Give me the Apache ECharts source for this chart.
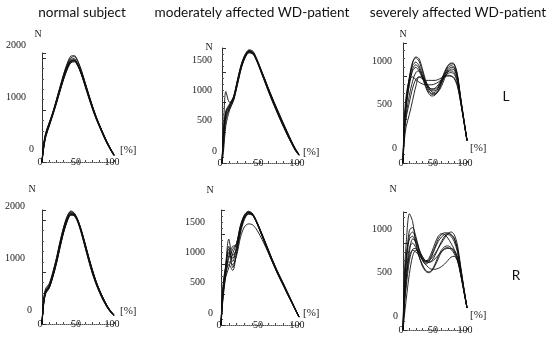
<!DOCTYPE html>
<html>
<head>
<meta charset="utf-8">
<script src="https://cdn.jsdelivr.net/npm/echarts@6/dist/echarts.min.js"></script>
<style>
  html, body { margin: 0; padding: 0; background: #fff; }
  #chart { width: 550px; height: 340px; }
</style>
</head>
<body>
<div id="chart"></div>
<script>
// Stance phase in percent, shared by every curve
const percent = [0, 2, 5, 10, 15, 20, 25, 30, 35, 40, 45, 50, 55, 60, 65, 70, 75, 80, 85, 90, 95, 100];

// Force curves in N, one row per step
const normalL = [
  [0, 260, 500, 720, 930, 1160, 1400, 1630, 1820, 1950, 1960, 1860, 1690, 1480, 1260, 1050, 860, 690, 530, 380, 250, 130],
  [0, 300, 540, 750, 960, 1200, 1450, 1680, 1880, 2010, 2030, 1930, 1750, 1530, 1300, 1080, 880, 700, 540, 390, 255, 135],
  [0, 230, 470, 690, 900, 1120, 1360, 1590, 1780, 1910, 1930, 1840, 1680, 1470, 1250, 1040, 850, 680, 520, 370, 240, 125],
  [0, 280, 520, 730, 940, 1180, 1420, 1660, 1860, 1980, 1990, 1880, 1700, 1490, 1270, 1060, 870, 700, 540, 390, 260, 140],
  [0, 250, 490, 700, 910, 1140, 1380, 1610, 1800, 1930, 1950, 1870, 1710, 1510, 1290, 1080, 880, 710, 550, 400, 265, 145],
  [0, 320, 560, 760, 950, 1170, 1410, 1640, 1840, 1960, 1970, 1860, 1670, 1450, 1230, 1020, 830, 670, 510, 360, 235, 120],
  [0, 270, 510, 710, 920, 1150, 1390, 1620, 1810, 1940, 1950, 1850, 1680, 1470, 1250, 1040, 850, 680, 520, 375, 245, 130],
  [0, 290, 530, 740, 950, 1190, 1440, 1690, 1900, 2040, 2050, 1940, 1750, 1520, 1290, 1070, 870, 700, 540, 385, 250, 130],
  [0, 240, 480, 700, 920, 1150, 1380, 1600, 1790, 1920, 1950, 1870, 1710, 1500, 1280, 1070, 880, 710, 550, 400, 260, 140]
];
const moderateL = [
  [0, 450, 820, 950, 1080, 1350, 1600, 1760, 1845, 1830, 1710, 1550, 1390, 1220, 1060, 910, 760, 620, 480, 345, 225, 130],
  [0, 600, 1180, 1000, 1060, 1330, 1590, 1760, 1840, 1820, 1700, 1540, 1380, 1210, 1050, 900, 750, 610, 470, 340, 220, 130],
  [0, 380, 760, 900, 1040, 1300, 1570, 1740, 1820, 1800, 1690, 1545, 1395, 1235, 1080, 930, 785, 640, 500, 365, 240, 140],
  [0, 500, 860, 980, 1100, 1370, 1630, 1790, 1860, 1830, 1700, 1530, 1360, 1190, 1030, 880, 730, 590, 455, 330, 210, 125],
  [0, 300, 700, 930, 1060, 1340, 1610, 1780, 1850, 1820, 1690, 1525, 1360, 1195, 1035, 885, 740, 600, 460, 335, 215, 128],
  [0, 420, 800, 940, 1070, 1320, 1580, 1750, 1830, 1815, 1710, 1560, 1405, 1245, 1090, 940, 795, 650, 510, 370, 245, 145],
  [0, 480, 840, 960, 1090, 1360, 1620, 1790, 1870, 1850, 1730, 1570, 1405, 1235, 1070, 915, 765, 625, 485, 350, 230, 135],
  [0, 200, 620, 880, 1030, 1290, 1560, 1740, 1830, 1810, 1700, 1550, 1395, 1230, 1070, 920, 775, 635, 495, 360, 235, 138]
];
const severeL = [
  [0, 420, 680, 960, 1150, 1220, 1200, 1090, 960, 870, 830, 830, 870, 950, 1040, 1110, 1140, 1130, 1010, 750, 500, 260],
  [0, 380, 640, 900, 1060, 1100, 1060, 980, 910, 870, 850, 860, 900, 960, 1020, 1050, 1060, 1040, 950, 720, 490, 265],
  [0, 500, 780, 960, 990, 960, 930, 910, 900, 900, 900, 910, 930, 960, 990, 1000, 1000, 980, 900, 700, 480, 255],
  [0, 250, 420, 560, 720, 880, 990, 990, 930, 860, 820, 800, 820, 880, 970, 1050, 1080, 1070, 970, 740, 500, 260],
  [0, 450, 700, 980, 1120, 1160, 1120, 1020, 900, 820, 790, 790, 830, 910, 1000, 1070, 1100, 1090, 990, 740, 500, 260],
  [0, 300, 520, 700, 860, 960, 990, 970, 950, 950, 950, 950, 960, 980, 1000, 1010, 1000, 970, 880, 700, 480, 255],
  [0, 400, 660, 920, 1080, 1130, 1090, 990, 880, 800, 770, 780, 830, 920, 1020, 1090, 1120, 1100, 990, 730, 490, 258],
  [0, 350, 560, 780, 940, 1040, 1060, 1010, 940, 880, 850, 850, 880, 930, 990, 1030, 1040, 1020, 930, 720, 490, 262],
  [0, 460, 720, 990, 1160, 1210, 1170, 1060, 930, 840, 800, 810, 860, 950, 1050, 1120, 1150, 1140, 1020, 760, 510, 262]
];
const normalR = [
  [0, 380, 620, 720, 940, 1200, 1520, 1800, 2010, 2130, 2110, 1980, 1760, 1500, 1240, 1000, 790, 620, 470, 340, 240, 170],
  [0, 420, 660, 760, 990, 1260, 1580, 1860, 2070, 2170, 2130, 1990, 1770, 1520, 1260, 1020, 810, 640, 490, 360, 255, 175],
  [0, 340, 580, 690, 900, 1160, 1470, 1760, 1980, 2100, 2090, 1970, 1760, 1510, 1260, 1020, 810, 640, 490, 350, 245, 165],
  [0, 400, 640, 740, 960, 1230, 1550, 1830, 2040, 2150, 2120, 1970, 1740, 1480, 1220, 980, 780, 610, 460, 335, 235, 165],
  [0, 360, 600, 700, 920, 1180, 1490, 1780, 2000, 2120, 2110, 2000, 1800, 1550, 1290, 1050, 830, 650, 500, 365, 260, 180],
  [0, 440, 680, 780, 1000, 1270, 1590, 1870, 2080, 2180, 2140, 2000, 1780, 1530, 1270, 1030, 820, 650, 495, 360, 255, 170],
  [0, 370, 610, 710, 930, 1190, 1510, 1790, 2000, 2110, 2080, 1950, 1730, 1470, 1210, 970, 770, 600, 455, 330, 230, 160],
  [0, 390, 630, 730, 950, 1210, 1530, 1810, 2020, 2140, 2120, 1990, 1780, 1530, 1270, 1030, 820, 640, 485, 350, 245, 170],
  [0, 350, 590, 700, 910, 1170, 1480, 1770, 1990, 2110, 2100, 1990, 1790, 1540, 1280, 1040, 820, 645, 495, 360, 250, 175]
];
const moderateR = [
  [0, 500, 850, 1200, 1050, 1300, 1620, 1790, 1850, 1830, 1720, 1570, 1410, 1250, 1090, 940, 800, 670, 530, 400, 265, 135],
  [0, 450, 800, 1420, 1150, 1250, 1580, 1780, 1860, 1840, 1725, 1570, 1405, 1240, 1080, 930, 790, 660, 520, 390, 258, 130],
  [0, 400, 760, 1000, 900, 1200, 1560, 1760, 1840, 1830, 1730, 1585, 1430, 1270, 1110, 960, 820, 690, 550, 415, 275, 140],
  [0, 550, 900, 1100, 1250, 1350, 1640, 1810, 1870, 1840, 1715, 1555, 1390, 1225, 1065, 915, 775, 645, 510, 385, 255, 128],
  [0, 350, 700, 1050, 1000, 1150, 1450, 1620, 1670, 1660, 1590, 1480, 1350, 1210, 1065, 925, 790, 665, 530, 400, 268, 135],
  [0, 480, 820, 1150, 1300, 1320, 1600, 1780, 1840, 1825, 1720, 1575, 1420, 1260, 1100, 950, 810, 680, 540, 405, 270, 140],
  [0, 420, 780, 1250, 1100, 1280, 1590, 1790, 1860, 1830, 1710, 1555, 1395, 1235, 1075, 925, 785, 655, 520, 390, 260, 132],
  [0, 380, 740, 950, 1180, 1350, 1650, 1820, 1880, 1850, 1735, 1580, 1420, 1255, 1095, 945, 805, 675, 535, 402, 268, 136],
  [0, 520, 880, 1300, 950, 1180, 1520, 1740, 1830, 1815, 1710, 1565, 1410, 1250, 1090, 940, 800, 670, 530, 398, 264, 138]
];
const severeR = [
  [0, 600, 1000, 1340, 1250, 1000, 850, 760, 690, 670, 690, 760, 850, 920, 960, 970, 950, 900, 820, 650, 450, 255],
  [0, 450, 800, 1150, 1180, 1080, 940, 830, 790, 820, 900, 1000, 1080, 1110, 1100, 1060, 1000, 930, 830, 650, 450, 255],
  [0, 400, 750, 1080, 1130, 1050, 920, 810, 760, 780, 850, 940, 1020, 1070, 1100, 1110, 1100, 1060, 940, 720, 480, 258],
  [0, 300, 580, 900, 1050, 1020, 930, 850, 800, 800, 830, 880, 940, 1000, 1060, 1110, 1130, 1100, 980, 740, 490, 258],
  [0, 150, 350, 650, 850, 920, 900, 850, 800, 780, 800, 860, 940, 1020, 1080, 1100, 1080, 1020, 900, 700, 470, 255],
  [0, 250, 500, 800, 930, 940, 880, 810, 760, 720, 700, 700, 710, 730, 760, 800, 840, 850, 800, 660, 460, 255],
  [0, 350, 650, 950, 1000, 950, 850, 740, 680, 660, 680, 740, 820, 900, 940, 950, 930, 880, 800, 640, 450, 252],
  [0, 500, 850, 1050, 1080, 1000, 900, 820, 780, 800, 870, 960, 1050, 1100, 1120, 1120, 1100, 1050, 930, 710, 480, 257],
  [0, 300, 600, 850, 920, 900, 860, 820, 790, 780, 790, 820, 860, 900, 930, 940, 940, 920, 850, 680, 465, 255]
];

// Column headings and side labels
const columnTitles = ['normal subject', 'moderately affected WD-patient', 'severely affected WD-patient'];
const sideLabels = ['L', 'R'];

// Panel layout: plot box, axis ranges and label placement
const panels = [
  { curves: normalL,   box: { left: 42,  top: 53,  width: 72, height: 109 }, yMax: 2100, yStep: 1000,
    zeroMargin: 8, extra: 8, lift: 7, nGap: 0,  nShift: 8,  pGap: 6, pLift: 6 },
  { curves: moderateL, box: { left: 222, top: 48,  width: 77, height: 115 }, yMax: 1900, yStep: 500,
    zeroMargin: 5, extra: 5, lift: 6, nGap: -4, nShift: 26, pGap: 4, pLift: 5 },
  { curves: severeL,   box: { left: 403, top: 43,  width: 64, height: 120 }, yMax: 1380, yStep: 500,
    zeroMargin: 6, extra: 5, lift: 9, nGap: 4,  nShift: 0,  pGap: 3, pLift: 9 },
  { curves: normalR,   box: { left: 42,  top: 210, width: 72, height: 114 }, yMax: 2200, yStep: 1000,
    zeroMargin: 10, extra: 7, lift: 8, nGap: 16, nShift: 20, pGap: 6, pLift: 7 },
  { curves: moderateR, box: { left: 221, top: 210, width: 78, height: 115 }, yMax: 1900, yStep: 500,
    zeroMargin: 8, extra: 8, lift: 6, nGap: 15, nShift: 22, pGap: 4, pLift: 6 },
  { curves: severeR,   box: { left: 403, top: 212, width: 64, height: 118 }, yMax: 1360, yStep: 500,
    zeroMargin: 5, extra: 6, lift: 8, nGap: 18, nShift: 20, pGap: 3, pLift: 9 }
];

const serif = 'Liberation Serif';
const ink = '#222';

const grid = [], xAxis = [], yAxis = [], series = [];
panels.forEach((p, i) => {
  grid.push(Object.assign({ containLabel: false }, p.box));
  xAxis.push({
    gridIndex: i, type: 'value', min: 0, max: 100, interval: 50,
    axisLine: { show: true, lineStyle: { color: '#555', width: 1, type: 'dotted' } },
    axisTick: { show: true, inside: true, length: 2, lineStyle: { color: '#444' } },
    minorTick: { show: true, splitNumber: 5, length: 2, lineStyle: { color: '#444' } },
    splitLine: { show: false },
    axisLabel: { margin: 0, verticalAlign: 'middle', fontFamily: serif, fontSize: 10, color: ink, padding: [0, 4, 0, 0] },
    name: '[%]', nameLocation: 'end', nameGap: p.pGap,
    nameTextStyle: { fontFamily: serif, fontSize: 11, color: ink, align: 'left', verticalAlign: 'bottom', padding: [0, 0, p.pLift, 0] }
  });
  yAxis.push({
    gridIndex: i, type: 'value', min: 0, max: p.yMax, interval: p.yStep,
    axisLine: { show: true, lineStyle: { color: '#333', width: 1 } },
    axisTick: { show: true, inside: true, length: 4, lineStyle: { color: '#333' } },
    minorTick: { show: true, splitNumber: 5, length: 2, lineStyle: { color: '#555' } },
    splitLine: { show: false },
    axisLabel: {
      margin: p.zeroMargin, fontFamily: serif, fontSize: 10, color: ink,
      verticalAlign: 'bottom', lineHeight: 12, padding: [0, 0, p.lift, 0],
      formatter: v => (v % p.yStep !== 0 ? '' : (v === 0 ? '0' : '{w|' + v + '}')),
      rich: { w: { fontFamily: serif, fontSize: 10, color: ink, lineHeight: 12, padding: [0, p.extra, 0, 0] } }
    },
    name: 'N', nameLocation: 'end', nameGap: p.nGap,
    nameTextStyle: { fontFamily: serif, fontSize: 10, color: ink, padding: [0, p.nShift, 0, 0] }
  });
  p.curves.forEach(c => {
    series.push({
      type: 'line', xAxisIndex: i, yAxisIndex: i,
      data: percent.map((x, k) => [x, c[k]]),
      showSymbol: false, smooth: 0.3, silent: true,
      lineStyle: { color: '#111', width: 0.9 }
    });
  });
});

const sans = 'Lato';
const graphic = [
  { x: 82,  y: 13, text: columnTitles[0] },
  { x: 252, y: 13, text: columnTitles[1] },
  { x: 458, y: 13, text: columnTitles[2] },
  { x: 506, y: 97, text: sideLabels[0] },
  { x: 516, y: 276, text: sideLabels[1] }
].map(t => ({
  type: 'text', silent: true,
  style: { x: t.x, y: t.y, text: t.text, fill: '#111', font: '13.6px ' + sans, textAlign: 'center', textVerticalAlign: 'middle' }
}));

const chart = echarts.init(document.getElementById('chart'), null, { renderer: 'canvas' });
chart.setOption({
  animation: false,
  backgroundColor: '#fff',
  grid, xAxis, yAxis, series, graphic
});
</script>
</body>
</html>
